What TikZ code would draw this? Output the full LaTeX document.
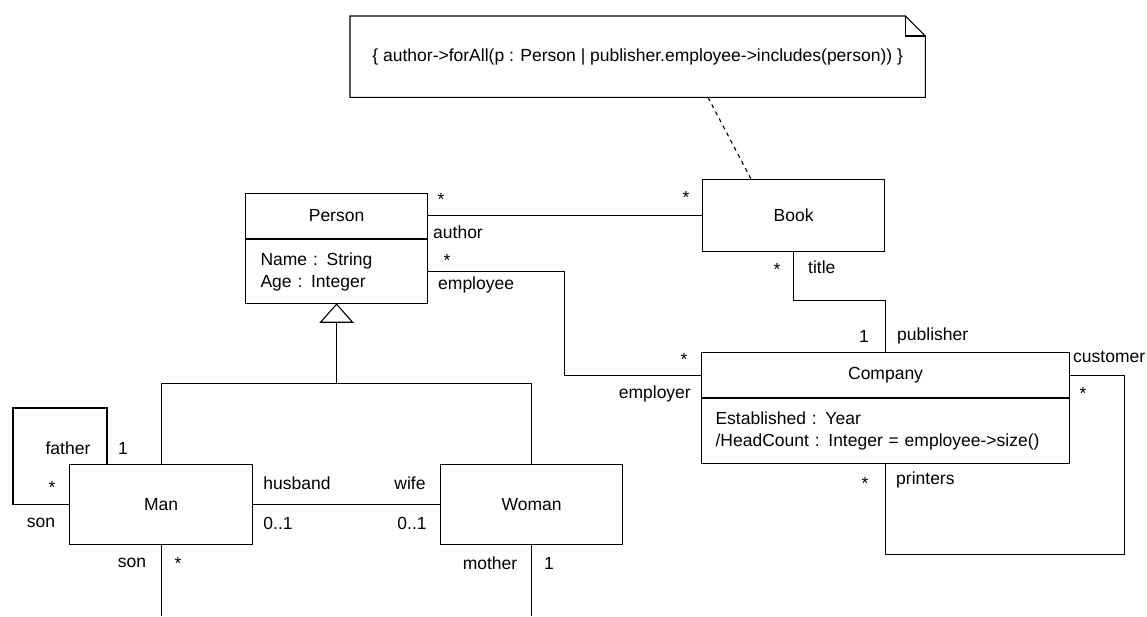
\documentclass[tikz,border=0pt]{standalone}
\usepackage{fontspec}
\setmainfont{Liberation Sans}
\usetikzlibrary{calc}
\begin{document}
\begin{tikzpicture}[x=1pt,y=-1pt,
  every node/.style={font=\fontsize{17.5}{22}\selectfont},
  box/.style={draw, line width=1.1pt, anchor=north west, inner sep=0pt},
  attrbox/.style={box, align=left, inner ysep=0pt},
  conn/.style={line width=1.1pt},
  lbl/.style={inner sep=0pt},
  star/.style={lbl, yshift=-3.5pt}]
\useasboundingbox (0,0) rectangle (1147,616);
\coordinate (bottomedge) at (0,616);

% constraint note with folded corner
\node[anchor=north west, minimum width=575pt, minimum height=81pt, inner sep=0pt] (note) at (350,16)
  {\{ author->forAll(p : Person | publisher.employee->includes(person)) \}};
\draw[conn] (note.north west) -- ($(note.north east)+(-20,0)$) -- ($(note.north east)+(0,20)$)
  -- (note.south east) -- (note.south west) -- cycle;
\draw[conn] ($(note.north east)+(-20,0)$) |- ($(note.north east)+(0,20)$);

% classes
\node[box, minimum width=182pt, minimum height=45pt] (personname) at (245,193) {Person};
\node[attrbox, text width=152pt, inner xsep=15pt, minimum height=64pt] (personattr)
  at (personname.south west) {Name : String\\Age : Integer};
\node[box, minimum width=182pt, minimum height=72pt] (book) at (702,179) {Book};
\node[box, minimum width=368pt, minimum height=45pt] (companyname) at (701,352) {Company};
\node[attrbox, text width=340pt, inner xsep=14pt, minimum height=65pt] (companyattr)
  at (companyname.south west) {Established : Year\\/HeadCount : Integer = employee->size()};
\node[box, minimum width=183pt, minimum height=80pt] (man) at (69,464) {Man};
\node[box, minimum width=182pt, minimum height=80pt] (woman) at (440,464) {Woman};

% note anchor
\draw[conn, dashed, dash pattern=on 4pt off 4pt] ($(note.south west)+(358,0)$) -- ($(book.north west)+(49,0)$);

% associations
\draw[conn] (book.west -| personname.east) -- (book.west);
\draw[conn] (personattr.east) -| ($(personattr.east)!.5!(companyname.west)$) |- (companyname.west);
\draw[conn] (book.south) -- ++(0,48) -| (companyname.north);
\draw[conn] (companyname.east) -- ++(54,0) |- ($(companyattr.south)+(0,90)$) -- (companyattr.south);
\draw[conn] (man.east) -- (woman.west);
\draw[conn] (man.west) -- ++(-56,0) |- ($(man.north west)+(38,-56)$) -- ($(man.north west)+(38,0)$);
\draw[conn] (man.south) -- (man.south |- bottomedge);
\draw[conn] (woman.south) -- (woman.south |- bottomedge);

% generalization
\draw[conn, fill=white] (personattr.south) -- ++(-16,18) -- ++(32,0) -- cycle;
\draw[conn] ($(personattr.south)+(0,18)$) -- ++(0,61) coordinate (genjoin);
\draw[conn] (man.north) |- (genjoin) -| (woman.north);

% role names and multiplicities
\node[star] (m1) at (441,196) {*};
\node[lbl, anchor=west] (rauthor) at (433,232) {author};
\node[star] (m2) at (447,257) {*};
\node[lbl, anchor=west] (remployee) at (438,285) {employee};
\node[star] (m3) at (686,194) {*};
\node[star] (m4) at (777,266) {*};
\node[lbl, anchor=west] (rtitle) at (808,267) {title};
\node[lbl] (m5) at (864,336) {1};
\node[lbl, anchor=west] (rpublisher) at (897,336) {publisher};
\node[star] (m6) at (684,356) {*};
\node[lbl, anchor=east] (remployer) at (691,394) {employer};
\node[lbl, anchor=west] (rcustomer) at (1073,357) {customer};
\node[star] (m7) at (1083,390) {*};
\node[star] (m8) at (865,480) {*};
\node[lbl, anchor=west] (rprinters) at (896,480) {printers};
\node[lbl] (rfather) at (68,448) {father};
\node[lbl] (m9) at (123,448) {1};
\node[star] (m10) at (52,484) {*};
\node[lbl] (rson1) at (41,523) {son};
\node[lbl] (rson2) at (132,563) {son};
\node[star] (m11) at (178,560) {*};
\node[lbl] (rhusband) at (297,483) {husband};
\node[lbl] (rwife) at (410,483) {wife};
\node[lbl] (m12) at (278,523) {0..1};
\node[lbl] (m13) at (412,523) {0..1};
\node[lbl] (rmother) at (490,563) {mother};
\node[lbl] (m14) at (549,563) {1};
\end{tikzpicture}
\end{document}
